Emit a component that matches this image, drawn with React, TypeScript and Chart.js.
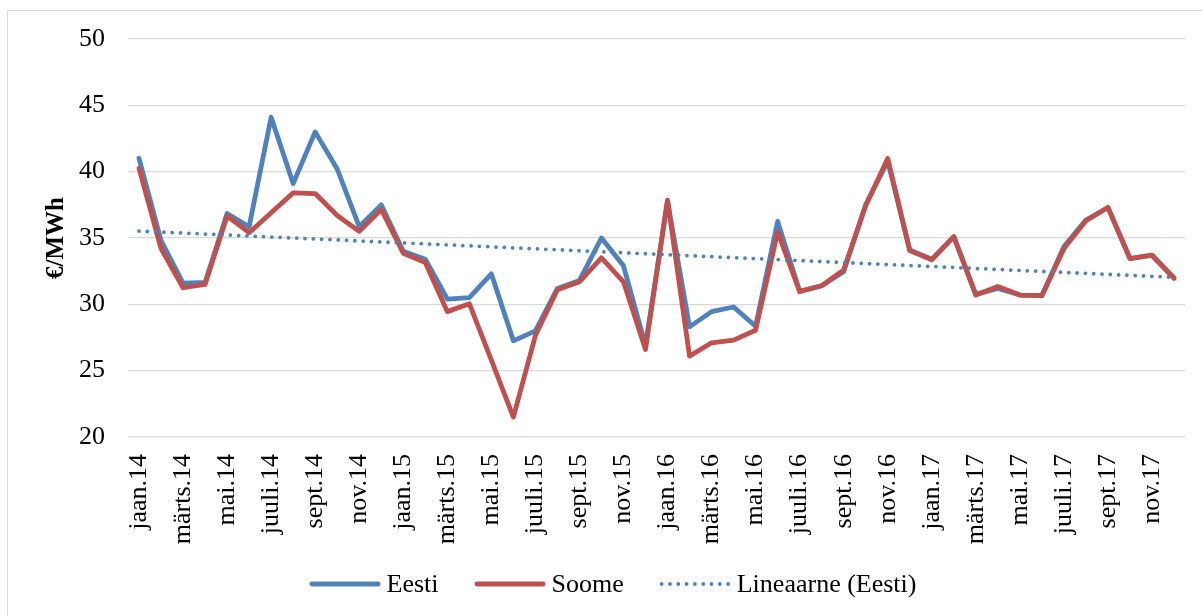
import React, { useEffect, useRef } from "react";
import { Chart, registerables } from "chart.js";

Chart.register(...registerables);

const monthNames = ["jaan", "veebr", "märts", "apr", "mai", "juuni", "juuli", "aug", "sept", "okt", "nov", "dets"];
const years = ["14", "15", "16", "17"];
const categories: string[] = years.flatMap((y) => monthNames.map((m) => `${m}.${y}`));

const eesti = [
  41.0, 34.8, 31.6, 31.65, 36.85, 35.85, 44.1, 39.1, 43.0, 40.2, 35.85, 37.5,
  34.0, 33.4, 30.4, 30.5, 32.3, 27.25, 28.0, 31.2, 31.8, 35.0, 32.9, 26.9,
  37.8, 28.3, 29.45, 29.8, 28.35, 36.25, 31.0, 31.4, 32.45, 37.5, 40.8, 34.1,
  33.4, 35.1, 30.75, 31.2, 30.7, 30.65, 34.35, 36.35, 37.3, 33.45, 33.7, 32.0,
];
const soome = [
  40.25, 34.2, 31.25, 31.5, 36.65, 35.4, 36.9, 38.4, 38.35, 36.7, 35.5, 37.15,
  33.85, 33.15, 29.45, 30.05, 25.8, 21.5, 27.65, 31.1, 31.7, 33.5, 31.7, 26.6,
  37.85, 26.1, 27.1, 27.3, 28.05, 35.45, 30.95, 31.4, 32.6, 37.45, 41.0, 34.05,
  33.35, 35.1, 30.7, 31.35, 30.7, 30.65, 34.2, 36.3, 37.3, 33.45, 33.7, 31.95,
];

const yTicks = { min: 20, max: 50, step: 5 };
const seriesLabels = ["Eesti", "Soome", "Lineaarne (Eesti)"];
const axisTitle = "€/MWh";

// linear trend line of the Eesti series (least squares)
function linearTrend(values: number[]): number[] {
  const n = values.length;
  let sx = 0, sy = 0, sxx = 0, sxy = 0;
  values.forEach((v, i) => { sx += i; sy += v; sxx += i * i; sxy += i * v; });
  const slope = (n * sxy - sx * sy) / (n * sxx - sx * sx);
  const icpt = (sy - slope * sx) / n;
  return values.map((_, i) => icpt + slope * i);
}

const FONT = "'Liberation Serif', 'Times New Roman', serif";
const BLUE = "#4F81BD";
const RED = "#C0504D";
const DOTS = [0.01, 8.3];

const LEGEND = { centerX: 605, centerY: 573, lineLen: 71, gap: 6, itemGap: 36, fontSize: 26 };

const bottomLegend = {
  id: "bottomLegend",
  afterDraw(chart: any) {
    const ctx = chart.ctx as CanvasRenderingContext2D;
    const datasets = chart.data.datasets;
    ctx.save();
    ctx.font = `${LEGEND.fontSize}px ${FONT}`;
    const widths = datasets.map((ds: any) => LEGEND.lineLen + LEGEND.gap + ctx.measureText(ds.label).width);
    const total = widths.reduce((a: number, b: number) => a + b, 0) + LEGEND.itemGap * (datasets.length - 1);
    let x = LEGEND.centerX - total / 2;
    const y = LEGEND.centerY;
    datasets.forEach((ds: any, i: number) => {
      ctx.beginPath();
      ctx.strokeStyle = ds.borderColor;
      ctx.lineWidth = ds.borderWidth;
      ctx.lineCap = "round";
      ctx.setLineDash(ds.borderDash || []);
      const inset = ds.borderWidth / 2;
      ctx.moveTo(x + inset, y);
      ctx.lineTo(x + LEGEND.lineLen - inset, y);
      ctx.stroke();
      ctx.setLineDash([]);
      ctx.fillStyle = "#000";
      ctx.textBaseline = "middle";
      ctx.textAlign = "left";
      ctx.fillText(ds.label, x + LEGEND.lineLen + LEGEND.gap, y + 1);
      x += widths[i] + LEGEND.itemGap;
    });
    ctx.restore();
  },
};

export default function App() {
  const ref = useRef<HTMLCanvasElement | null>(null);

  useEffect(() => {
    document.body.style.overflow = "hidden";
    const canvas = ref.current;
    if (!canvas) return;
    const chart = new Chart(canvas, {
      type: "line",
      data: {
        labels: categories,
        datasets: [
          {
            label: seriesLabels[0],
            data: eesti,
            borderColor: BLUE,
            backgroundColor: BLUE,
            borderWidth: 4.8,
            pointRadius: 0,
            borderCapStyle: "round",
            borderJoinStyle: "round",
            tension: 0,
            order: 3,
          },
          {
            label: seriesLabels[1],
            data: soome,
            borderColor: RED,
            backgroundColor: RED,
            borderWidth: 4.8,
            pointRadius: 0,
            borderCapStyle: "round",
            borderJoinStyle: "round",
            tension: 0,
            order: 2,
          },
          {
            label: seriesLabels[2],
            data: linearTrend(eesti),
            borderColor: BLUE,
            backgroundColor: BLUE,
            borderWidth: 3.8,
            borderDash: DOTS,
            borderCapStyle: "round",
            pointRadius: 0,
            tension: 0,
            order: 1,
          },
        ],
      },
      options: {
        animation: false,
        responsive: false,
        events: [],
        layout: { padding: { left: 30, right: 17, top: 28, bottom: 55 } },
        plugins: {
          legend: { display: false },
          tooltip: { enabled: false },
        },
        scales: {
          x: {
            offset: true,
            grid: { display: false },
            border: { display: false },
            ticks: {
              autoSkip: false,
              minRotation: 90,
              maxRotation: 90,
              padding: 9,
              color: "#000",
              font: { family: FONT, size: 26 },
              callback: (_v: any, i: number) => (i % 2 === 0 ? categories[i] : ""),
            },
            afterFit: (s: any) => {
              s.height = 124;
              s.paddingLeft = 0;
              s.paddingRight = 0;
            },
          },
          y: {
            min: yTicks.min,
            max: yTicks.max,
            border: { display: false },
            grid: { color: "#d9d9d9", lineWidth: 1.3, drawTicks: false },
            ticks: {
              stepSize: yTicks.step,
              padding: 23,
              color: "#000",
              font: { family: FONT, size: 26 },
            },
            title: {
              display: true,
              text: axisTitle,
              color: "#000",
              font: { family: FONT, size: 25, weight: "bold" },
              padding: { top: 4, bottom: 0 },
            },
            afterFit: (s: any) => {
              s.width = 90;
              s.paddingTop = 0;
              s.paddingBottom = 0;
            },
          },
        },
      },
      plugins: [bottomLegend],
    });
    return () => chart.destroy();
  }, []);

  return (
    <div
      style={{
        position: "fixed",
        left: 7,
        top: 10,
        width: 1200,
        height: 610,
        border: "1px solid #d9d9d9",
        boxSizing: "border-box",
        background: "#fff",
      }}
    >
      <canvas ref={ref} width={1194} height={605} style={{ display: "block" }} />
    </div>
  );
}
